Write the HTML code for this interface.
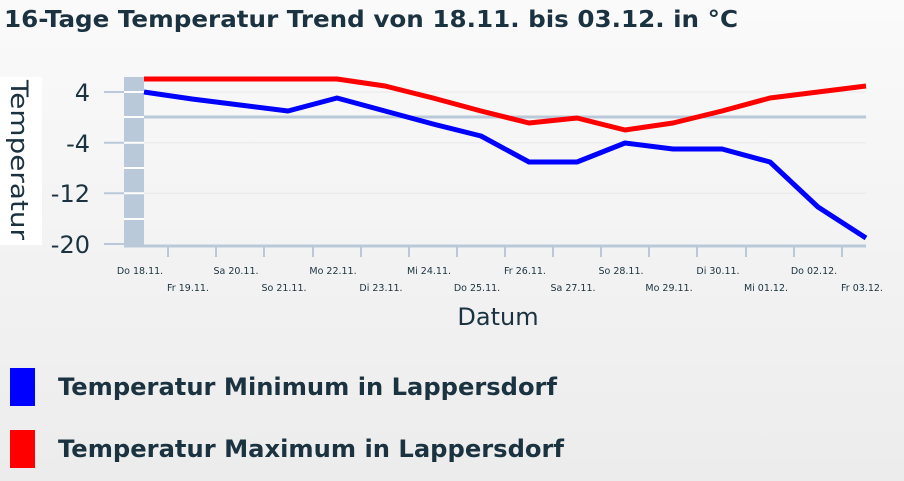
<!DOCTYPE html>
<html><head><meta charset="utf-8"><style>
body{margin:0;width:904px;height:481px;overflow:hidden;background:linear-gradient(#fafafa,#ececec);font-family:"DejaVu Sans","Liberation Sans",sans-serif;color:#1b3340}
</style></head><body>
<svg width="904" height="481" style="position:absolute;left:0;top:0">
<text x="4" y="27" font-size="23" font-weight="bold" fill="#1b3340" textLength="734" lengthAdjust="spacingAndGlyphs" font-family="DejaVu Sans, sans-serif">16-Tage Temperatur Trend von 18.11. bis 03.12. in °C</text>
<rect x="0" y="77" width="42" height="168" fill="#fff"/>
<text transform="translate(11,80) rotate(90)" font-size="24" fill="#1b3340" textLength="160" lengthAdjust="spacingAndGlyphs" font-family="DejaVu Sans, sans-serif">Temperatur</text>
<g stroke="#e8e8e8" stroke-width="1">
<line x1="144" y1="142.7" x2="866" y2="142.7"/><line x1="144" y1="193.3" x2="866" y2="193.3"/><line x1="144" y1="92" x2="866" y2="92"/>
</g>
<rect x="124" y="77" width="20" height="169" fill="#b9c9d9"/>
<g stroke="#fff" stroke-width="2"><line x1="124" y1="92" x2="144" y2="92"/><line x1="124" y1="117" x2="144" y2="117"/><line x1="124" y1="142.7" x2="144" y2="142.7"/><line x1="124" y1="168" x2="144" y2="168"/><line x1="124" y1="193.3" x2="144" y2="193.3"/><line x1="124" y1="219" x2="144" y2="219"/></g>
<g stroke="#b9c9d9" stroke-width="2"><line x1="104" y1="92" x2="124" y2="92"/><line x1="104" y1="142.7" x2="124" y2="142.7"/><line x1="104" y1="193.3" x2="124" y2="193.3"/><line x1="104" y1="244" x2="124" y2="244"/></g>
<line x1="144" y1="117" x2="866" y2="117" stroke="#b9c9d9" stroke-width="3"/>
<line x1="124" y1="246" x2="866" y2="246" stroke="#b9c9d9" stroke-width="3"/>
<g stroke="#b9c9d9" stroke-width="2">
<line x1="168" y1="247" x2="168" y2="257"/><line x1="216" y1="247" x2="216" y2="257"/><line x1="264" y1="247" x2="264" y2="257"/><line x1="313" y1="247" x2="313" y2="257"/><line x1="361" y1="247" x2="361" y2="257"/><line x1="409" y1="247" x2="409" y2="257"/><line x1="457" y1="247" x2="457" y2="257"/><line x1="505" y1="247" x2="505" y2="257"/><line x1="553" y1="247" x2="553" y2="257"/><line x1="601" y1="247" x2="601" y2="257"/><line x1="649" y1="247" x2="649" y2="257"/><line x1="697" y1="247" x2="697" y2="257"/><line x1="746" y1="247" x2="746" y2="257"/><line x1="794" y1="247" x2="794" y2="257"/><line x1="842" y1="247" x2="842" y2="257"/>
</g>
<g font-size="24" fill="#1b3340" text-anchor="end" font-family="DejaVu Sans, sans-serif">
<text x="90" y="101">4</text><text x="90" y="152">-4</text><text x="90" y="202">-12</text><text x="90" y="253">-20</text>
</g>
<g font-size="9.5" fill="#1b3340" text-anchor="middle" font-family="DejaVu Sans, sans-serif">
<text x="140" y="274">Do 18.11.</text><text x="188" y="291">Fr 19.11.</text><text x="236" y="274">Sa 20.11.</text><text x="284" y="291">So 21.11.</text><text x="333" y="274">Mo 22.11.</text><text x="381" y="291">Di 23.11.</text><text x="429" y="274">Mi 24.11.</text><text x="477" y="291">Do 25.11.</text><text x="525" y="274">Fr 26.11.</text><text x="573" y="291">Sa 27.11.</text><text x="621" y="274">So 28.11.</text><text x="669" y="291">Mo 29.11.</text><text x="718" y="274">Di 30.11.</text><text x="766" y="291">Mi 01.12.</text><text x="814" y="274">Do 02.12.</text><text x="862" y="291">Fr 03.12.</text>
</g>
<text x="498" y="325" font-size="24" text-anchor="middle" fill="#1b3340" font-family="DejaVu Sans, sans-serif">Datum</text>
<polyline fill="none" stroke="#f00" stroke-width="5" stroke-linejoin="round" points="144,79 192,79 240,79 288,79 337,79 385,86 433,98 481,111 529,123 577,118 625,130 673,123 722,111 770,98 818,92 866,86"/>
<polyline fill="none" stroke="#00f" stroke-width="5" stroke-linejoin="round" points="144,92 192,99 240,105 288,111 337,98 385,111 433,124 481,136 529,162 577,162 625,143 673,149 722,149 770,162 818,207 866,238"/>
<rect x="10" y="368" width="25" height="38" fill="#00f"/>
<rect x="10" y="430" width="25" height="38" fill="#f00"/>
<text x="58" y="395" font-size="24" font-weight="bold" fill="#1b3340" textLength="499" lengthAdjust="spacingAndGlyphs" font-family="DejaVu Sans, sans-serif">Temperatur Minimum in Lappersdorf</text>
<text x="58" y="457" font-size="24" font-weight="bold" fill="#1b3340" textLength="506" lengthAdjust="spacingAndGlyphs" font-family="DejaVu Sans, sans-serif">Temperatur Maximum in Lappersdorf</text>
</svg>
</body></html>
